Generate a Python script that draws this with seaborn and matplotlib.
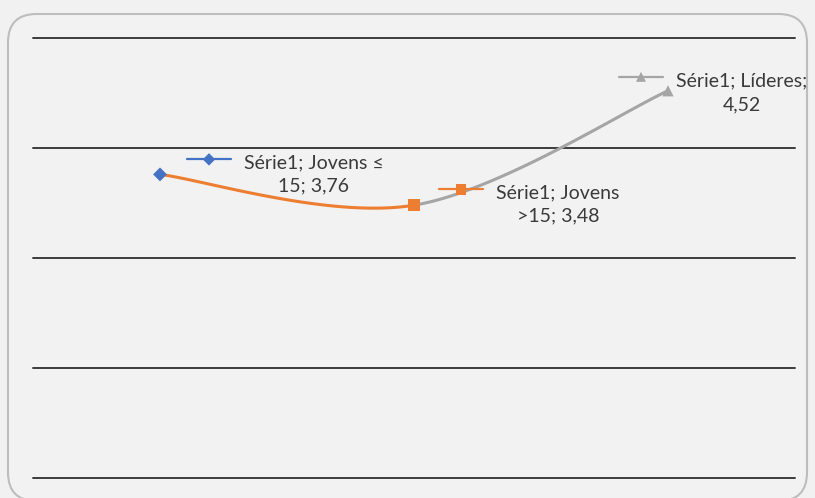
import numpy as np
import pandas as pd
import seaborn as sns
import matplotlib
matplotlib.use("Agg")
import matplotlib.pyplot as plt
from matplotlib.patches import FancyBboxPatch
from matplotlib.lines import Line2D

# Data
categories = ["Jovens ≤ 15", "Jovens >15", "Líderes"]
values = [3.76, 3.48, 4.52]
label_texts = ["Série1; Jovens ≤\n15; 3,76", "Série1; Jovens\n>15; 3,48", "Série1; Líderes;\n4,52"]
point_colors = ["#4472C4", "#ED7D31", "#A5A5A5"]
point_markers = ["D", "s", "^"]
y_ticks = [1, 2, 3, 4, 5]

sns.set_theme(style="white")
plt.rcParams["font.family"] = ["Lato", "DejaVu Sans"]

W, H, DPI = 815, 498, 100
fig = plt.figure(figsize=(W / DPI, H / DPI), dpi=DPI, facecolor="#f1f1f1")

# rounded chart border
border = FancyBboxPatch((8 / W, -3 / H), (799) / W, (487) / H,
                        boxstyle="round,pad=0,rounding_size=0.035",
                        transform=fig.transFigure, facecolor="#f2f2f2",
                        edgecolor="#bdbdbd", linewidth=1.5,
                        mutation_aspect=W / H, zorder=-5)
fig.patches.append(border)

ax = fig.add_axes([33 / W, 20 / H, 762 / W, 440 / H])
ax.set_zorder(2)
ax.set_facecolor("none")
ax.set_xlim(-0.5, 2.5)
ax.set_ylim(1, 5)
for s in ax.spines.values():
    s.set_visible(False)
ax.set_xticks([])
ax.set_yticks([])
for yv in y_ticks:
    ax.axhline(yv, color="#3c3c3c", lw=1.4, zorder=1, clip_on=False)

# smoothed line (cardinal bezier between consecutive points)
xs = np.arange(len(values), dtype=float)
ys = np.array(values, dtype=float)
pts = np.column_stack([xs, ys])
t = np.linspace(0, 1, 80)
for i in range(len(pts) - 1):
    p0 = pts[i]
    p3 = pts[i + 1]
    prev = pts[i - 1] if i > 0 else pts[i]
    nxt = pts[i + 2] if i + 2 < len(pts) else pts[i + 1]
    c1 = p0 + (p3 - prev) / 6
    c2 = p3 - (nxt - p0) / 6
    b = ((1 - t) ** 3)[:, None] * p0 + (3 * (1 - t) ** 2 * t)[:, None] * c1 \
        + (3 * (1 - t) * t ** 2)[:, None] * c2 + (t ** 3)[:, None] * p3
    seg = pd.DataFrame({"x": b[:, 0], "y": b[:, 1]})
    sns.lineplot(data=seg, x="x", y="y", ax=ax, color=point_colors[i + 1],
                 lw=2.2, sort=False, estimator=None, zorder=3)

sizes = [50, 75, 65]
for i in range(len(values)):
    sns.scatterplot(x=[xs[i]], y=[ys[i]], ax=ax, marker=point_markers[i],
                    color=point_colors[i], s=sizes[i], edgecolor="none",
                    zorder=4, legend=False)
ax.set_xlabel("")
ax.set_ylabel("")

# data labels with legend keys (offsets in pixels)
key_off = [(49, 15), (47, 16), (-27, 14)]
text_off = [(154, 0), (144, 1), (74, -2)]
px_x = 762 / 3.0
px_y = 440 / 4.0
for i in range(len(values)):
    kx = xs[i] + key_off[i][0] / px_x
    ky = ys[i] + key_off[i][1] / px_y
    half = 22 / px_x
    ax.add_line(Line2D([kx - half, kx + half], [ky, ky], color=point_colors[i],
                       lw=1.6, zorder=5))
    ax.scatter([kx], [ky], marker=point_markers[i], color=point_colors[i],
               s=sizes[i] * 0.8, edgecolor="none", zorder=6)
    ax.annotate(label_texts[i], xy=(xs[i], ys[i]), xytext=text_off[i],
                textcoords="offset pixels", ha="center", va="center",
                fontsize=14, color="#3a3a3a", linespacing=1.45, zorder=6)

fig.savefig("out.png", dpi=DPI, facecolor=fig.get_facecolor())
